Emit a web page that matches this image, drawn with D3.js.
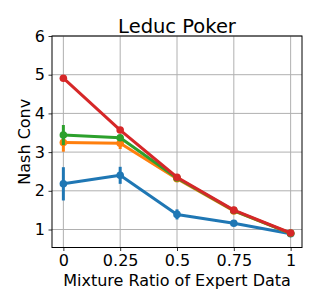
<!DOCTYPE html>
<html><head><meta charset="utf-8">
<script src="https://cdn.jsdelivr.net/npm/d3@7"></script>
<style>body{margin:0;background:#fff}svg{display:block}text{font-family:"DejaVu Sans",sans-serif;fill:#000}</style>
</head><body><svg id="c" width="319" height="306"></svg>
<script>
const ratios = [0, 0.25, 0.5, 0.75, 1];
const xTickLabels = ["0", "0.25", "0.5", "0.75", "1"];
const yTicks = [1, 2, 3, 4, 5, 6];
const seriesColors = ["#1f77b4", "#ff7f0e", "#2ca02c", "#d62728"];
const blueVals = [2.18, 2.40, 1.39, 1.16, 0.89];
const blueErr = [0.43, 0.22, 0.13, 0.04, 0.02];
const orangeVals = [3.25, 3.23, 2.31, 1.48, 0.90];
const orangeErr = [0.24, 0.15, 0.03, 0.02, 0.02];
const greenVals = [3.44, 3.37, 2.33, 1.49, 0.90];
const greenErr = [0.26, 0.05, 0.03, 0.02, 0.02];
const redVals = [4.91, 3.57, 2.35, 1.50, 0.91];
const redErr = [0.02, 0.03, 0.02, 0.02, 0.02];

const series = [
  {vals: blueVals, err: blueErr},
  {vals: orangeVals, err: orangeErr},
  {vals: greenVals, err: greenErr},
  {vals: redVals, err: redErr}
];

const L = 52, R = 302, T = 36, B = 247.5;
const svg = d3.select("#c");
const x = d3.scaleLinear().domain([-0.05, 1.05]).range([L, R]);
const y = d3.scaleLinear().domain([0.535, 6]).range([B, T]);

// grid
const g = svg.append("g");
g.selectAll("line.vx").data(ratios).enter().append("line")
  .attr("x1", d => x(d)).attr("x2", d => x(d)).attr("y1", T).attr("y2", B)
  .attr("stroke", "#b0b0b0").attr("stroke-width", 1);
g.selectAll("line.hy").data(yTicks).enter().append("line")
  .attr("y1", d => y(d)).attr("y2", d => y(d)).attr("x1", L).attr("x2", R)
  .attr("stroke", "#b0b0b0").attr("stroke-width", 1);

// axes
const xAxis = d3.axisBottom(x).tickValues(ratios).tickFormat((d, i) => xTickLabels[i]).tickSize(3.5).tickPadding(3.5);
const yAxis = d3.axisLeft(y).tickValues(yTicks).tickFormat(d3.format("d")).tickSize(3.5).tickPadding(3.5);
const gx = svg.append("g").attr("transform", `translate(0,${B})`).call(xAxis);
const gy = svg.append("g").attr("transform", `translate(${L},0)`).call(yAxis);
[gx, gy].forEach(a => {
  a.select(".domain").remove();
  a.selectAll("text").style("font-size", "16px").style("font-family", "DejaVu Sans");
  a.selectAll("line").attr("stroke", "#000").attr("stroke-width", 0.8);
});

// frame
svg.append("rect").attr("x", L).attr("y", T).attr("width", R - L).attr("height", B - T)
  .attr("fill", "none").attr("stroke", "#000").attr("stroke-width", 1);

// series
const line = d3.line().x((d, i) => x(ratios[i])).y(d => y(d));
series.forEach((s, k) => {
  const c = seriesColors[k];
  const sg = svg.append("g");
  sg.selectAll("line.err").data(s.vals).enter().append("line")
    .attr("x1", (d, i) => x(ratios[i])).attr("x2", (d, i) => x(ratios[i]))
    .attr("y1", (d, i) => y(d - s.err[i])).attr("y2", (d, i) => y(d + s.err[i]))
    .attr("stroke", c).attr("stroke-width", 3);
  sg.append("path").datum(s.vals).attr("d", line)
    .attr("fill", "none").attr("stroke", c).attr("stroke-width", 3).attr("stroke-linejoin", "round");
  sg.selectAll("circle").data(s.vals).enter().append("circle")
    .attr("cx", (d, i) => x(ratios[i])).attr("cy", d => y(d)).attr("r", 3.8).attr("fill", c);
});

// labels
svg.append("text").attr("x", (L + R) / 2).attr("y", 33).attr("text-anchor", "middle")
  .style("font-size", "19.5px").text("Leduc Poker");
svg.append("text").attr("x", (L + R) / 2).attr("y", 286).attr("text-anchor", "middle")
  .style("font-size", "16px").text("Mixture Ratio of Expert Data");
svg.append("text").attr("transform", `translate(30,${(T + B) / 2}) rotate(-90)`).attr("text-anchor", "middle")
  .style("font-size", "16px").text("Nash Conv");
</script></body></html>
